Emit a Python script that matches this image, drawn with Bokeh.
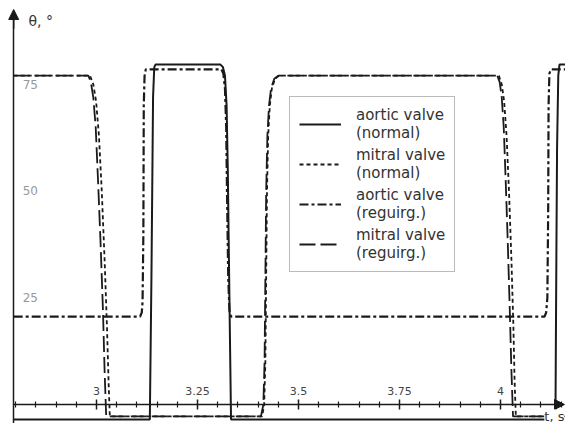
from bokeh.plotting import figure
from bokeh.models import (Range1d, LinearAxis, FixedTicker, Legend, LegendItem,
                          Arrow, NormalHead, Label)
from bokeh.embed import file_html
from bokeh.resources import INLINE

# ---------------- data ----------------
aortic_normal_t = [2.795, 3.132, 3.136, 3.140, 3.143, 3.146, 3.307, 3.313, 3.318,
                   3.322, 3.325, 3.329, 3.333, 4.136, 4.138, 4.140, 4.143, 4.146, 4.170]
aortic_normal_theta = [-3.5, -3.5, 30.0, 72.0, 79.0, 79.6, 79.6, 79.0, 77.0,
                       70.0, 55.0, 25.0, -3.5, -3.5, 30.0, 60.0, 77.0, 79.6, 79.6]

mitral_normal_t = [2.795, 2.984, 2.992, 2.999, 3.006, 3.013, 3.020, 3.026, 3.030, 3.033,
                   3.410, 3.415, 3.418, 3.420, 3.422, 3.425, 3.429, 3.434, 3.442, 3.452,
                   3.996, 4.003, 4.009, 4.015, 4.021, 4.027, 4.032, 4.035, 4.038, 4.170]
mitral_normal_theta = [77.0, 77.0, 75.0, 71.0, 63.0, 50.0, 34.0, 18.0, 5.0, -2.8,
                       -2.8, 0.0, 10.0, 30.0, 50.0, 63.0, 70.0, 74.0, 76.3, 77.0,
                       77.0, 75.0, 71.0, 63.0, 50.0, 34.0, 18.0, 5.0, -2.8, -2.8]

aortic_reg_t = [2.795, 3.108, 3.112, 3.114, 3.116, 3.117, 3.119, 3.122,
                3.309, 3.314, 3.318, 3.321, 3.323, 3.326, 3.329, 3.333,
                4.109, 4.113, 4.116, 4.118, 4.119, 4.121, 4.125, 4.170]
aortic_reg_theta = [20.6, 20.6, 21.5, 24.0, 40.0, 70.0, 77.0, 78.5,
                    78.5, 77.5, 74.0, 65.0, 50.0, 30.0, 22.0, 20.6,
                    20.6, 21.5, 25.0, 45.0, 70.0, 77.5, 78.5, 78.5]

mitral_reg_t = [2.795, 2.980, 2.986, 2.992, 2.998, 3.004, 3.010, 3.016, 3.020, 3.024,
                3.407, 3.413, 3.416, 3.418, 3.420, 3.423, 3.427, 3.432, 3.440, 3.450,
                3.992, 3.998, 4.003, 4.008, 4.013, 4.018, 4.023, 4.027, 4.031, 4.170]
mitral_reg_theta = [77.0, 77.0, 75.5, 72.0, 65.0, 52.0, 38.0, 22.0, 8.0, -2.8,
                    -2.8, 0.0, 10.0, 30.0, 50.0, 63.0, 70.0, 74.0, 76.3, 77.0,
                    77.0, 75.5, 72.0, 65.0, 52.0, 38.0, 22.0, 8.0, -2.8, -2.8]

series_labels = ["aortic valve\n(normal)", "mitral valve\n(normal)",
                 "aortic valve\n(reguirg.)", "mitral valve\n(reguirg.)"]

x_ticks = [3.0, 3.25, 3.5, 3.75, 4.0]
x_tick_labels = ["3", "3.25", "3.5", "3.75", "4"]
x_minor_ticks = [2.8, 2.85, 2.9, 2.95, 3.05, 3.1, 3.15, 3.2, 3.3, 3.35, 3.4, 3.45,
                 3.55, 3.6, 3.65, 3.7, 3.8, 3.85, 3.9, 3.95, 4.05, 4.1, 4.15]
y_ticks = [25, 50, 75]

# ---------------- figure ----------------
FONT = "DejaVu Sans"
INK = "#1a1a1a"

p = figure(width=565, height=423, output_backend="svg", toolbar_location=None,
           x_range=Range1d(2.76238, 4.16089), y_range=Range1d(-4.45, 94.61),
           x_axis_location=None, y_axis_location=None, min_border=0)
p.outline_line_color = None
p.grid.visible = False
p.background_fill_color = "white"

xaxis = LinearAxis(fixed_location=0,
                   ticker=FixedTicker(ticks=x_ticks, minor_ticks=x_minor_ticks),
                   major_label_overrides=dict(zip(x_ticks, x_tick_labels)),
                   bounds=(2.795, 4.15),
                   axis_line_width=1.5, axis_line_color=INK,
                   major_tick_in=5, major_tick_out=5, minor_tick_in=3, minor_tick_out=3,
                   major_tick_line_width=1.5, minor_tick_line_width=1.2,
                   major_tick_line_color=INK, minor_tick_line_color=INK,
                   major_label_standoff=4, major_label_text_font=FONT,
                   major_label_text_font_size="11px", major_label_text_color="#444")
p.add_layout(xaxis, "above")

yaxis = LinearAxis(fixed_location=2.795, ticker=FixedTicker(ticks=y_ticks, minor_ticks=[]),
                   bounds=(-5, 91), axis_line_width=1.5, axis_line_color=INK,
                   major_tick_in=0, major_tick_out=0, minor_tick_in=0, minor_tick_out=0,
                   major_label_standoff=9, major_label_text_font=FONT,
                   major_label_text_font_size="12px", major_label_text_color="#999")
p.add_layout(yaxis, "right")

r1 = p.line(aortic_normal_t, aortic_normal_theta, line_color=INK, line_width=2.0)
r2 = p.line(mitral_normal_t, mitral_normal_theta, line_color=INK, line_width=1.8,
            line_dash="4 3")
r3 = p.line(aortic_reg_t, aortic_reg_theta, line_color=INK, line_width=2.2,
            line_dash="9 3 3 3")
r4 = p.line(mitral_reg_t, mitral_reg_theta, line_color=INK, line_width=1.8,
            line_dash="16 5")

legend = Legend(items=[LegendItem(label=series_labels[0], renderers=[r1]),
                       LegendItem(label=series_labels[1], renderers=[r2]),
                       LegendItem(label=series_labels[2], renderers=[r3]),
                       LegendItem(label=series_labels[3], renderers=[r4])],
                location=(289, 151), orientation="vertical",
                border_line_color="#777", border_line_width=1,
                padding=9, spacing=4, margin=0,
                glyph_width=42, glyph_height=20, label_standoff=15,
                label_text_font=FONT, label_text_font_size="15px",
                label_text_color="#333",
                background_fill_alpha=1.0)
p.add_layout(legend)

p.add_layout(Arrow(end=NormalHead(size=10, fill_color=INK, line_color=INK, line_width=1),
                   x_start=4.14, y_start=0, x_end=4.1584, y_end=0,
                   line_width=1.5, line_color=INK))
p.add_layout(Arrow(end=NormalHead(size=10, fill_color=INK, line_color=INK, line_width=1),
                   x_start=2.795, y_start=88, x_end=2.795, y_end=92.5,
                   line_width=1.5, line_color=INK))

p.add_layout(Label(x=2.8317, y=89.7, text="θ, °", text_baseline="middle",
                   text_font=FONT, text_font_size="14px", text_color="#333"))
p.add_layout(Label(x=4.1584, y=-2.9, text="t, s", text_baseline="alphabetic",
                   text_align="right", background_fill_color="white",
                   background_fill_alpha=1.0,
                   text_font=FONT, text_font_size="13px", text_color="#333"))

open("out.html", "w").write(file_html(p, INLINE))
